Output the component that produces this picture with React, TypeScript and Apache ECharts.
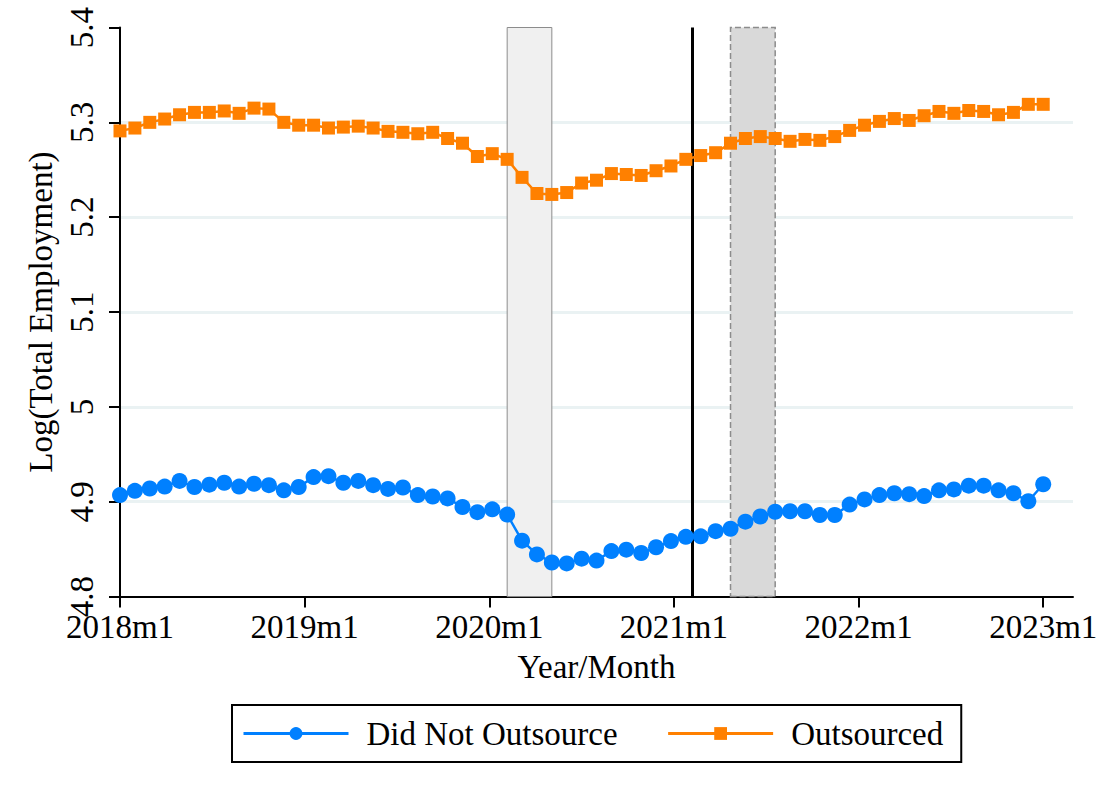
import React, { useEffect, useRef } from "react";
import * as echarts from "echarts";

// Year tick labels and their positions on the period index axis
const yearLabels = ["2018m1", "2019m1", "2020m1", "2021m1", "2022m1", "2023m1"];
const yearTickPos = [0, 12.4, 24.8, 37.2, 49.6, 62];

// Log(Total Employment) by period
const didNotOutsource = [
  4.907, 4.9115, 4.914, 4.916, 4.922, 4.9155, 4.918, 4.92, 4.916, 4.919,
  4.9175, 4.912, 4.9155, 4.926, 4.927, 4.92, 4.922, 4.9175, 4.9135, 4.915,
  4.907, 4.9055, 4.9035, 4.8945, 4.889, 4.892, 4.8865, 4.859, 4.8445, 4.836,
  4.835, 4.84, 4.838, 4.848, 4.8495, 4.846, 4.852, 4.8585, 4.863, 4.8635,
  4.869, 4.8715, 4.879, 4.8845, 4.8895, 4.89, 4.89, 4.886, 4.886, 4.897,
  4.9025, 4.907, 4.909, 4.908, 4.906, 4.912, 4.913, 4.917, 4.917, 4.912,
  4.909, 4.9005, 4.9185,
];
const outsourced = [
  5.291, 5.294, 5.3, 5.3035, 5.308, 5.3105, 5.3105, 5.312, 5.3095, 5.315,
  5.314, 5.3, 5.297, 5.297, 5.294, 5.295, 5.296, 5.294, 5.2905, 5.2895,
  5.288, 5.2895, 5.283, 5.278, 5.264, 5.267, 5.261, 5.242, 5.225, 5.224,
  5.226, 5.236, 5.239, 5.246, 5.245, 5.244, 5.249, 5.254, 5.261, 5.265,
  5.268, 5.278, 5.283, 5.285, 5.283, 5.28, 5.282, 5.281, 5.285, 5.2915,
  5.297, 5.301, 5.304, 5.302, 5.307, 5.3115, 5.3095, 5.3125, 5.3115, 5.308,
  5.3105, 5.319, 5.319,
];

// Shaded periods and the event line (period index units)
const firstBand = [26, 29];
const secondBand = [41, 44];
const eventLine = 38.4;

const SERIF = "Liberation Serif";
const FS = 33;
const BLUE = "#0080FF";
const ORANGE = "#FF8000";

export default function App() {
  const ref = useRef<HTMLDivElement>(null);

  useEffect(() => {
    if (!ref.current) return;
    const chart = echarts.init(ref.current, undefined, { renderer: "svg" });
    const toPairs = (arr: number[]) => arr.map((v, i) => [i, v]);
    const txt = { fontFamily: SERIF, fontSize: FS, color: "#000" };

    chart.setOption({
      animation: false,
      backgroundColor: "#ffffff",
      textStyle: { fontFamily: SERIF, fontSize: FS, color: "#000" },
      grid: {
        left: 120,
        right: 27,
        top: 27.5,
        bottom: 203.4,
        containLabel: false,
        outerBoundsMode: "none",
      },
      xAxis: {
        type: "value",
        min: 0,
        max: 64,
        name: "Year/Month",
        nameLocation: "middle",
        nameGap: 54,
        nameTextStyle: txt,
        axisLine: { show: true, onZero: false, lineStyle: { color: "#000", width: 2 } },
        axisTick: {
          show: true,
          length: 11,
          customValues: yearTickPos,
          lineStyle: { color: "#000", width: 2 },
        },
        axisLabel: {
          ...txt,
          customValues: yearTickPos,
          margin: 14,
          formatter: (v: number) => {
            const k = yearTickPos.findIndex((t) => Math.abs(t - v) < 1e-6);
            return k >= 0 ? yearLabels[k] : "";
          },
        },
        splitLine: { show: false },
      },
      yAxis: {
        type: "value",
        min: 4.8,
        max: 5.4,
        interval: 0.1,
        name: "Log(Total Employment)",
        nameLocation: "middle",
        nameGap: 56,
        nameRotate: 90,
        nameTextStyle: txt,
        axisLine: { show: true, lineStyle: { color: "#000", width: 2 } },
        axisTick: { show: true, length: 11, lineStyle: { color: "#000", width: 2 } },
        axisLabel: {
          ...txt,
          rotate: 90,
          margin: 22,
          formatter: (v: number) => String(Math.round(v * 10) / 10),
        },
        splitLine: {
          show: true,
          showMinLine: false,
          showMaxLine: false,
          lineStyle: { color: "#EAF2F3", width: 3 },
        },
      },
      legend: {
        data: ["Did Not Outsource", "Outsourced"],
        left: 232,
        top: 705,
        orient: "horizontal",
        itemWidth: 105,
        itemHeight: 16,
        itemGap: 49,
        padding: [12, 18, 12, 10],
        borderColor: "#000",
        borderWidth: 2,
        lineStyle: { width: 3 },
        textStyle: { ...txt, padding: [0, 0, 0, 13] },
      },
      series: [
        {
          name: "Did Not Outsource",
          type: "line",
          data: toPairs(didNotOutsource),
          symbol: "circle",
          symbolSize: 16,
          z: 3,
          itemStyle: { color: BLUE },
          lineStyle: { color: BLUE, width: 2.5 },
          markArea: {
            silent: true,
            z: 1,
            data: [
              [
                {
                  xAxis: firstBand[0],
                  itemStyle: { color: "#F0F0F0", borderColor: "#8C8C8C", borderWidth: 1 },
                },
                { xAxis: firstBand[1] },
              ],
              [
                {
                  xAxis: secondBand[0],
                  itemStyle: {
                    color: "#D9D9D9",
                    borderColor: "#8C8C8C",
                    borderWidth: 1.5,
                    borderType: "dashed",
                  },
                },
                { xAxis: secondBand[1] },
              ],
            ],
          },
          markLine: {
            silent: true,
            z: 2,
            symbol: ["none", "none"],
            label: { show: false },
            lineStyle: { color: "#000", width: 3, type: "solid" },
            data: [{ xAxis: eventLine }],
          },
        },
        {
          name: "Outsourced",
          type: "line",
          data: toPairs(outsourced),
          symbol: "rect",
          symbolSize: 13,
          z: 3,
          itemStyle: { color: ORANGE },
          lineStyle: { color: ORANGE, width: 2.5 },
        },
      ],
    });

    return () => chart.dispose();
  }, []);

  return (
    <div
      ref={ref}
      style={{ position: "absolute", left: 0, top: 0, width: 1100, height: 800 }}
    />
  );
}
